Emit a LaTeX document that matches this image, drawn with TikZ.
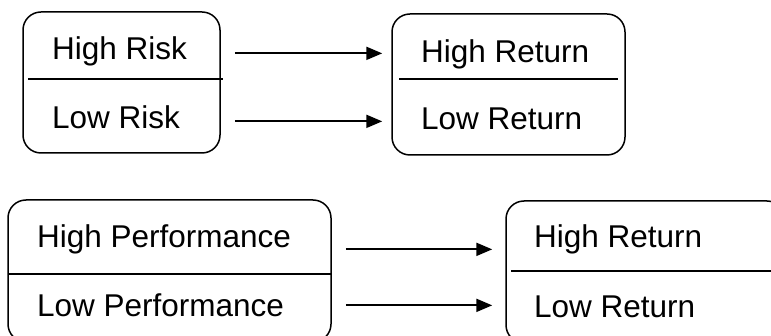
\documentclass[tikz,border=0pt]{standalone}
\usepackage{fontspec}
\setmainfont{Liberation Sans}
\usetikzlibrary{arrows.meta}
\tikzset{
  box/.style={draw, line width=1.5pt, rounded corners=18pt, inner sep=0pt},
  lbl/.style={anchor=base west, inner sep=0pt, font=\fontsize{31.5}{38}\selectfont},
  arr/.style={line width=2pt, -{Triangle[length=16pt,width=13pt]}},
  divider/.style={line width=1.7pt}
}

\begin{document}
\begin{tikzpicture}[x=1pt,y=-1pt]
		\useasboundingbox (0,0) rectangle (771,336);
		%%%%% RISK -> RETURN %%%%%
		\node[box, minimum width=197pt, minimum height=141pt] (risk) at (121.5, 82.5) {};
		\node[lbl] (hrisk) at (52, 60) {High Risk};
		\node[lbl] (lrisk) at (52, 129) {Low Risk};
		\draw[divider] (28, 79) -- (223, 79);
		
		\node[box, minimum width=233pt, minimum height=141pt] (ret) at (508.5, 84.5) {};
		\node[lbl] (hret) at (421, 63) {High Return};
		\node[lbl] (lret) at (421, 130) {Low Return};
		\draw[divider] (399, 79) -- (618, 79);
		
		\draw[arr] ([xshift=14pt,yshift=4pt]hrisk.mid -| risk.east) -- ([xshift=-9pt,yshift=4pt]hrisk.mid -| ret.west);
		\draw[arr] ([xshift=14pt,yshift=5pt]lrisk.mid -| risk.east) -- ([xshift=-9pt,yshift=5pt]lrisk.mid -| ret.west);
		
		%%%%% PERFORMANCE -> RETURN %%%%%
		\node[box, minimum width=323pt, minimum height=142pt] (perf) at (169.5, 271) {};
		\node[lbl] (hperf) at (37, 248) {High Performance};
		\node[lbl] (lperf) at (37, 317) {Low Performance};
		\draw[divider] (8, 274) -- (331, 274);
		
		\node[box, minimum width=279pt, minimum height=142pt] (ret2) at (645.5, 272) {};
		\node[lbl] (hret2) at (534, 248) {High Return};
		\node[lbl] (lret2) at (534, 318) {Low Return};
		\draw[divider] (511, 271) -- (771, 271);
		
		\draw[arr] ([xshift=14pt,yshift=-4pt]hperf.mid -| perf.east) -- ([xshift=-13pt,yshift=-4pt]hperf.mid -| ret2.west);
		\draw[arr] ([xshift=14pt,yshift=9pt]lperf.mid -| perf.east) -- ([xshift=-13pt,yshift=9pt]lperf.mid -| ret2.west);
\end{tikzpicture}
\end{document}
